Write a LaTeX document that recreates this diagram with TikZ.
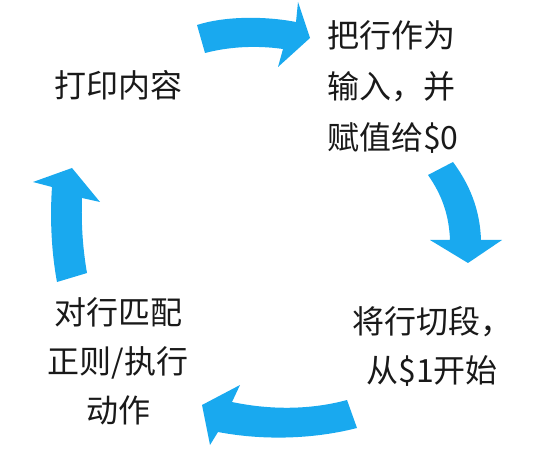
\documentclass[tikz,border=0pt]{standalone}
\usepackage{fontspec}
\setmainfont{Noto Sans CJK SC}
\definecolor{arrowblue}{RGB}{25,169,239}
\begin{document}
\begin{tikzpicture}[x=1pt,y=-1pt,
  cyclearrow/.style={fill=arrowblue,draw=none},
  steptext/.style={inner sep=0pt,text=black!90,font=\fontsize{32}{49}\selectfont}]
\useasboundingbox (0,0) rectangle (535,454);
% curved arrows
\fill[cyclearrow] (197,25) .. controls (225,16) and (265,16) .. (296,22) -- (298,2) -- (310,38) -- (278,67) -- (283,49) .. controls (255,45) and (228,47) .. (205,53) -- cycle;
\fill[cyclearrow] (428,175) -- (453,162) .. controls (470,185) and (480,210) .. (481,240) -- (502,240) -- (468,263) -- (430,240) -- (450,240) .. controls (449,215) and (442,195) .. (428,175) -- cycle;
\fill[cyclearrow] (347,400) .. controls (310,410) and (270,410) .. (232,402) -- (240,385) -- (202,405) -- (210,445) -- (218,432) .. controls (260,440) and (310,440) .. (357,428) -- cycle;
\fill[cyclearrow] (57,282) .. controls (51,250) and (50,215) .. (52,187) -- (33,182) -- (72,168) -- (100,202) -- (82,198) .. controls (81,225) and (83,250) .. (87,273) -- cycle;
% texts
\node[steptext] (print) at (118,85) {打印内容};
\node[steptext,align=left,anchor=west,font=\fontsize{32}{51}\selectfont] (input) at (327,87) {把行作为\\输入，并\\赋值给\$0};
\node[steptext,align=center] (split) at (432,346) {将行切段，\\从\$1开始};
\node[steptext,align=center] (match) at (118,361) {对行匹配\\正则/执行\\动作};
\end{tikzpicture}
\end{document}
